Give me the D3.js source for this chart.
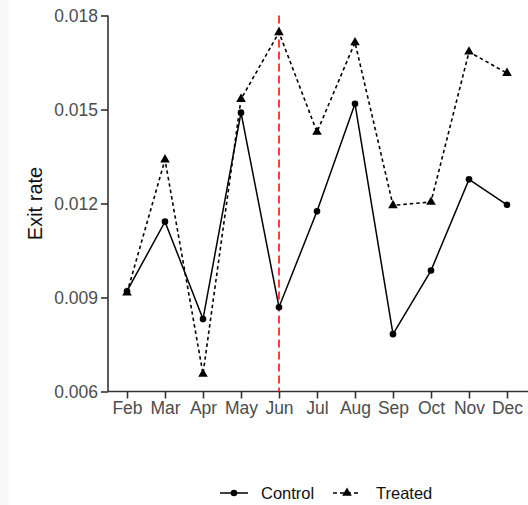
<!DOCTYPE html>
<html>
<head>
<meta charset="utf-8">
<script src="https://cdn.jsdelivr.net/npm/d3@7"></script>
<style>
  html, body { margin: 0; padding: 0; background: #ffffff; }
  svg { display: block; }
  text { font-family: "Liberation Sans", Arial, sans-serif; }
</style>
</head>
<body>
<svg id="chart" width="528" height="505"></svg>
<script>
const months = ["Feb","Mar","Apr","May","Jun","Jul","Aug","Sep","Oct","Nov","Dec"];
const control = [0.0092, 0.01142, 0.00831, 0.0149, 0.00869, 0.01175, 0.01518, 0.00783, 0.00986, 0.01277, 0.01196];
const treated = [0.00915, 0.0134, 0.00656, 0.01533, 0.01746, 0.01428, 0.01714, 0.01194, 0.01205, 0.01684, 0.01616];
const yTicks = [0.006, 0.009, 0.012, 0.015, 0.018];
const yDomain = [0.006, 0.018];
const eventMonth = "Jun";
const seriesNames = ["Control", "Treated"];

const svg = d3.select("#chart");
const W = 528, H = 505;
const m = {left: 108, right: 2, top: 15.5, bottom: 113.5};

svg.append("rect").attr("x", 0).attr("y", 0).attr("width", 9).attr("height", H).attr("fill", "#f9f9f9");

const x = d3.scalePoint().domain(months).range([m.left, W - m.right]).padding(0.5);
const y = d3.scaleLinear().domain(yDomain).range([H - m.bottom, m.top]);

// axes
const yAxis = svg.append("g").attr("transform", `translate(${m.left},0)`)
  .call(d3.axisLeft(y).tickValues(yTicks).tickFormat(d3.format(".3f")).tickSize(7).tickPadding(3));
const xAxis = svg.append("g").attr("transform", `translate(0,${H - m.bottom})`)
  .call(d3.axisBottom(x).tickSize(7).tickPadding(3).tickSizeOuter(0));
xAxis.select(".domain").attr("d", `M${m.left},0H${W}`);
yAxis.select(".domain").attr("d", `M0,${y(yDomain[1])}V${y(yDomain[0])}`);
[xAxis, yAxis].forEach(g => {
  g.selectAll(".domain, .tick line").attr("stroke", "#333333").attr("stroke-width", 1.6);
  g.selectAll(".tick text").attr("fill", "#4d4d4d").style("font-size", "17.5px").style("font-family", "'Liberation Sans', Arial, sans-serif");
});

// axis title
svg.append("text")
  .attr("transform", `translate(42,${(y(yDomain[0]) + y(yDomain[1])) / 2}) rotate(-90)`)
  .attr("text-anchor", "middle")
  .attr("fill", "#111")
  .style("font-size", "20px")
  .text("Exit rate");

// event line
svg.append("line")
  .attr("x1", x(eventMonth)).attr("x2", x(eventMonth))
  .attr("y1", y(yDomain[1])).attr("y2", y(yDomain[0]))
  .attr("stroke", "#ff0000").attr("stroke-width", 1.5).attr("stroke-dasharray", "8,4");

const line = d3.line().x((d, i) => x(months[i])).y(d => y(d));

// treated
svg.append("path").datum(treated).attr("d", line)
  .attr("fill", "none").attr("stroke", "#000").attr("stroke-width", 1.6).attr("stroke-dasharray", "3.5,3");
const tri = d3.symbol().type(d3.symbolTriangle).size(40);
svg.selectAll(".tri").data(treated).enter().append("path")
  .attr("d", tri).attr("transform", (d, i) => `translate(${x(months[i])},${y(d)})`).attr("fill", "#000");

// control
svg.append("path").datum(control).attr("d", line)
  .attr("fill", "none").attr("stroke", "#000").attr("stroke-width", 1.5);
svg.selectAll(".dot").data(control).enter().append("circle")
  .attr("cx", (d, i) => x(months[i])).attr("cy", d => y(d)).attr("r", 3.3).attr("fill", "#000");

// legend
const ly = 493;
const lg = svg.append("g");
lg.append("line").attr("x1", 220).attr("x2", 248).attr("y1", ly).attr("y2", ly).attr("stroke", "#000").attr("stroke-width", 1.5);
lg.append("circle").attr("cx", 234).attr("cy", ly).attr("r", 3.3).attr("fill", "#000");
lg.append("text").attr("x", 261).attr("y", ly).attr("dy", "0.36em").style("font-size", "16.5px").attr("fill", "#111").text(seriesNames[0]);
lg.append("line").attr("x1", 333).attr("x2", 361).attr("y1", ly).attr("y2", ly).attr("stroke", "#000").attr("stroke-width", 1.5).attr("stroke-dasharray", "4,3");
lg.append("path").attr("d", tri).attr("transform", `translate(347,${ly})`).attr("fill", "#000");
lg.append("text").attr("x", 376).attr("y", ly).attr("dy", "0.36em").style("font-size", "16.5px").attr("fill", "#111").text(seriesNames[1]);
</script>
</body>
</html>
